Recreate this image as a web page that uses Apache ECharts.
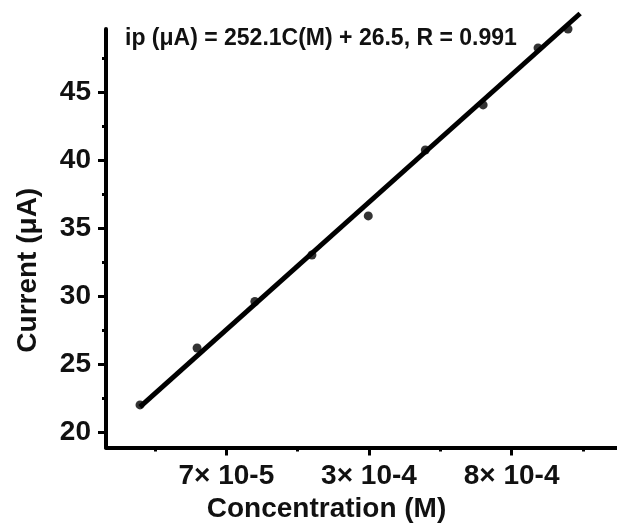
<!DOCTYPE html>
<html>
<head>
<meta charset="utf-8">
<script src="https://cdn.jsdelivr.net/npm/echarts@6/dist/echarts.min.js"></script>
<style>html,body{margin:0;padding:0;background:#fff;}#c{width:617px;height:524px;}</style>
</head>
<body>
<div id="c"></div>
<script>
// x positions in tick units (label ticks at 2,4,6)
const concentration = [0.79, 1.59, 2.40, 3.20, 3.99, 4.79, 5.60, 6.37, 6.79];
const current = [22.04, 26.22, 29.64, 33.06, 35.93, 40.78, 44.09, 48.28, 49.67];
const fitX = [0.79, 6.96];
const fitY = [21.89, 50.81];
const xTickValues = [2, 4, 6];
const xTickLabels = ['7× 10-5', '3× 10-4', '8× 10-4'];
const xMinorTicks = [1, 3, 5, 7];
const yTickValues = [20, 25, 30, 35, 40, 45];
const yMinorTicks = [22.5, 27.5, 32.5, 37.5, 42.5, 47.5];
const equationText = 'ip (μA) = 252.1C(M) + 26.5, R = 0.991';
const xTitle = 'Concentration (M)';
const yTitle = 'Current (μA)';

const FONT = "'Liberation Sans', Arial, sans-serif";
const chart = echarts.init(document.getElementById('c'));
const xMin = 0.313, xMax = 7.477, yMin = 18.91, yMax = 49.67;

chart.setOption({
  animation: false,
  backgroundColor: '#fff',
  title: {
    text: equationText, left: 125, top: 27, padding: 0,
    textStyle: { fontFamily: FONT, fontWeight: 'bold', fontSize: 23, color: '#111' }
  },
  grid: { left: 106, right: 0, top: 29, bottom: 76.5, containLabel: false, outerBoundsMode: 'none' },
  xAxis: [{
    type: 'value', min: xMin, max: xMax, position: 'bottom',
    splitLine: { show: false },
    axisLine: { show: true, onZero: false, lineStyle: { color: '#000', width: 4 } },
    axisTick: { show: true, customValues: xTickValues, length: 8, inside: false, lineStyle: { color: '#000', width: 3 } },
    axisLabel: {
      show: true, customValues: xTickValues, margin: 15,
      fontFamily: FONT, fontWeight: 'bold', fontSize: 28, color: '#111',
      formatter: function (v) { const i = xTickValues.indexOf(v); return i >= 0 ? xTickLabels[i] : ''; }
    },
    name: xTitle, nameLocation: 'middle', nameGap: 45,
    nameTextStyle: { fontFamily: FONT, fontWeight: 'bold', fontSize: 28, color: '#111', padding: [0, 70, 0, 0] }
  }, {
    type: 'value', min: xMin, max: xMax, position: 'bottom', offset: 0,
    splitLine: { show: false },
    axisLine: { show: false, onZero: false },
    axisTick: { show: true, customValues: xMinorTicks, length: 4, lineStyle: { color: '#000', width: 3 } },
    axisLabel: { show: false }
  }],
  yAxis: [{
    type: 'value', min: yMin, max: yMax, position: 'left',
    splitLine: { show: false },
    axisLine: { show: true, onZero: false, lineStyle: { color: '#000', width: 4 } },
    axisTick: { show: true, customValues: yTickValues, length: 8, lineStyle: { color: '#000', width: 3 } },
    axisLabel: {
      show: true, customValues: yTickValues, margin: 15,
      fontFamily: FONT, fontWeight: 'bold', fontSize: 28, color: '#111'
    },
    name: yTitle, nameLocation: 'middle', nameGap: 64, nameRotate: 90,
    nameTextStyle: { fontFamily: FONT, fontWeight: 'bold', fontSize: 28, color: '#111', padding: [0, 64, 0, 0] }
  }, {
    type: 'value', min: yMin, max: yMax, position: 'left', offset: 0,
    splitLine: { show: false },
    axisLine: { show: false, onZero: false },
    axisTick: { show: true, customValues: yMinorTicks, length: 4, lineStyle: { color: '#000', width: 3 } },
    axisLabel: { show: false }
  }],
  series: [{
    type: 'scatter', xAxisIndex: 0, yAxisIndex: 0,
    data: concentration.map((x, i) => [x, current[i]]),
    symbol: 'circle', symbolSize: 9,
    itemStyle: { color: '#000' }, z: 3
  }, {
    type: 'line', xAxisIndex: 0, yAxisIndex: 0, clip: false,
    data: fitX.map((x, i) => [x, fitY[i]]),
    showSymbol: false, symbol: 'none',
    lineStyle: { color: '#000', width: 5 }, z: 2
  }]
});
</script>
</body>
</html>
